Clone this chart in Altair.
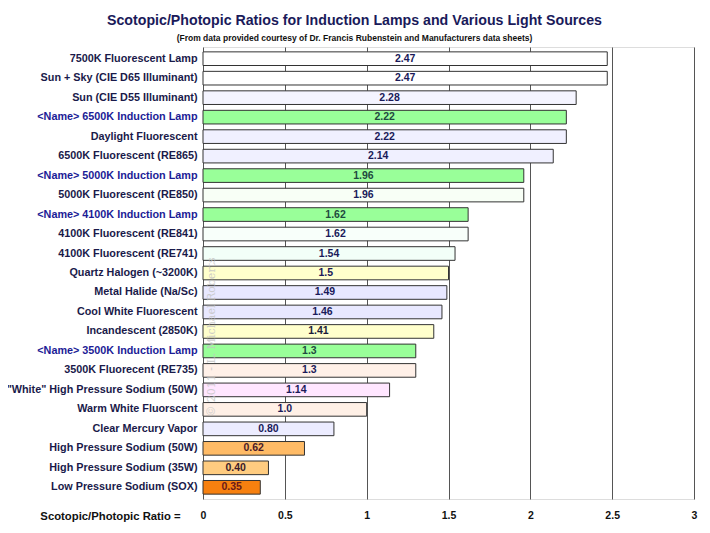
import altair as alt
import pandas as pd

categories = [
    "7500K Fluorescent Lamp",
    "Sun + Sky (CIE D65 Illuminant)",
    "Sun (CIE D55 Illuminant)",
    "<Name> 6500K Induction Lamp",
    "Daylight Fluorescent",
    "6500K Fluorescent (RE865)",
    "<Name> 5000K Induction Lamp",
    "5000K Fluorescent (RE850)",
    "<Name> 4100K Induction Lamp",
    "4100K Fluorescent (RE841)",
    "4100K Fluorescent (RE741)",
    "Quartz Halogen (~3200K)",
    "Metal Halide (Na/Sc)",
    "Cool White Fluorescent",
    "Incandescent (2850K)",
    "<Name> 3500K Induction Lamp",
    "3500K Fluorecent (RE735)",
    "\"White\" High Pressure Sodium (50W)",
    "Warm White Fluorscent",
    "Clear Mercury Vapor",
    "High Pressure Sodium (50W)",
    "High Pressure Sodium (35W)",
    "Low Pressure Sodium (SOX)",
]
values = [2.47, 2.47, 2.28, 2.22, 2.22, 2.14, 1.96, 1.96, 1.62, 1.62, 1.54, 1.5,
          1.49, 1.46, 1.41, 1.3, 1.3, 1.14, 1.0, 0.80, 0.62, 0.40, 0.35]
value_labels = ["2.47", "2.47", "2.28", "2.22", "2.22", "2.14", "1.96", "1.96", "1.62",
                "1.62", "1.54", "1.5", "1.49", "1.46", "1.41", "1.3", "1.3", "1.14",
                "1.0", "0.80", "0.62", "0.40", "0.35"]
bar_colors = ["#ffffff", "#ffffff", "#f4f4ff", "#99ff99", "#f0f0ff", "#f0f0ff",
              "#99ff99", "#f8fff6", "#99ff99", "#f8fffa", "#f2fff8", "#ffffcc",
              "#e8e8ff", "#e8e8ff", "#ffffcc", "#99ff99", "#fff0e8", "#ffe6ff",
              "#fff0e6", "#ececff", "#ffbb66", "#ffcc80", "#f7800f"]
text_colors = ["#1a1a5a", "#1a1a5a", "#1a1a5a", "#1f4a3f", "#1a1a5a", "#1a1a5a",
               "#1f4a3f", "#1a1a5a", "#1f4a3f", "#1a1a5a", "#1a1a5a", "#1a1a5a",
               "#1a1a5a", "#1a1a5a", "#1a1a3a", "#1f4a3f", "#1a1a5a", "#1a1a5a",
               "#1a1a5a", "#1a1a5a", "#4a1a2a", "#3a1a2a", "#6a1a1a"]
x_ticks = [0, 0.5, 1, 1.5, 2, 2.5, 3]

df = pd.DataFrame({
    "source": categories,
    "ratio": values,
    "label": value_labels,
    "fill": bar_colors,
    "tcolor": text_colors,
})

FONT = "Liberation Sans"

y_enc = alt.Y(
    "source:N",
    sort=categories,
    scale=alt.Scale(paddingInner=0.3, paddingOuter=0.25),
    axis=alt.Axis(
        title=None, ticks=False, domain=False, grid=False,
        labelFont=FONT, labelFontSize=10.8, labelFontWeight="bold",
        labelPadding=6, labelLimit=400,
        labelColor=alt.expr("indexof(datum.label, '<Name>') >= 0 ? '#1c1c96' : '#1a1a4a'"),
    ),
)

x_scale = alt.Scale(domain=[0, 3], nice=False)
x_axis = alt.Axis(
    values=x_ticks, format="~g", grid=True, gridColor="#555", gridWidth=1,
    ticks=False, domain=False, labelFlush=False,
    labelFont=FONT, labelFontSize=10.5, labelFontWeight="bold", labelColor="#111",
    labelPadding=11,
    title="Scotopic/Photopic Ratio =", titleFont=FONT, titleFontSize=11.3,
    titleFontWeight="bold", titleColor="#111", titleX=-93, titleY=17,
    titleBaseline="middle", titleAlign="center",
)

bars = alt.Chart(df).mark_bar(stroke="#333", strokeWidth=1).encode(
    x=alt.X("ratio:Q", scale=x_scale, axis=x_axis),
    y=y_enc,
    color=alt.Color("fill:N", scale=None),
)

texts = alt.Chart(df).transform_calculate(mid="datum.ratio / 2").mark_text(
    font=FONT, fontSize=10.5, fontWeight="bold", baseline="middle", align="center"
).encode(
    x=alt.X("mid:Q", scale=x_scale),
    y=alt.Y("source:N", sort=categories),
    text="label:N",
    color=alt.Color("tcolor:N", scale=None),
)

watermark = alt.Chart(pd.DataFrame({"t": ["\u00a9 2011 - L. Michael Roberts"]})).mark_text(
    font="DejaVu Serif", fontSize=11, angle=270, color="#c4c4c4", opacity=0.8,
    baseline="middle", align="center"
).encode(x=alt.value(9), y=alt.value(290), text="t:N")

chart = alt.layer(bars, texts, watermark).properties(
    width=491, height=452,
    autosize="none",
    padding={"left": 195, "top": 39, "right": 8, "bottom": 26},
    title=alt.TitleParams(
        text="Scotopic/Photopic Ratios for Induction Lamps and Various Light Sources",
        subtitle="(From data provided courtesy of Dr. Francis Rubenstein and Manufacturers data sheets)",
        anchor="middle", frame="group", dx=-94, offset=5,
        font=FONT, fontSize=14.2, fontWeight="bold", color="#1a1a5a",
        subtitleFont=FONT, subtitleFontSize=8.5, subtitleFontWeight="bold",
        subtitleColor="#111", subtitlePadding=5,
    ),
).configure_view(
    fill="#e4e4e4", stroke="#333", strokeWidth=1.5
).configure(background="white")

chart.save("out.html", embed_options={"renderer": "svg", "actions": False})
